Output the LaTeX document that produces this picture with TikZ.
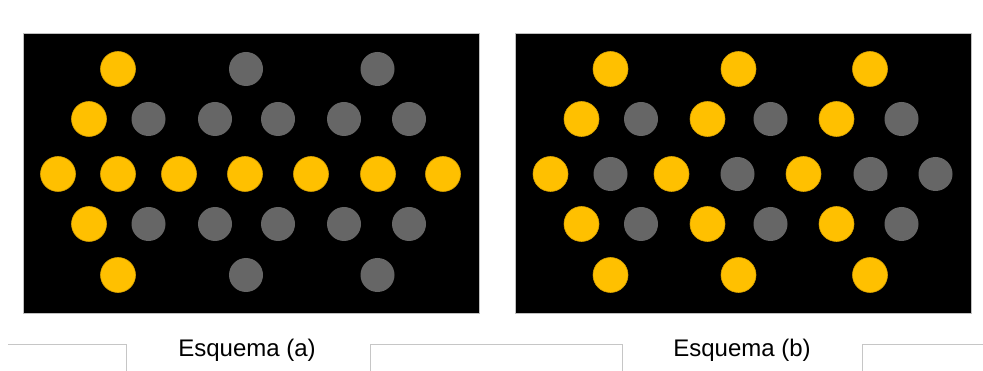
\documentclass[tikz,border=0pt]{standalone}
\usepackage{fontspec}
\setmainfont{Liberation Sans}
\usepackage{xcolor}
\usepackage{tikz}
\usetikzlibrary{positioning}
\definecolor{lampon}{RGB}{255,192,0}
\definecolor{lampoff}{RGB}{102,102,102}
\tikzset{
panel/.style={
draw=gray!50,
fill=black,
line width=0.9pt
},
onlamp/.style={
circle,
fill=lampon,
draw=lampon!85!black,
line width=0.6pt,
minimum size=35pt,
inner sep=0pt
},
offlamp/.style={
circle,
fill=lampoff,
minimum size=34pt,
inner sep=0pt
},
caption/.style={
font=\fontsize{24}{28}\selectfont,
anchor=base,
inner sep=0pt
},
rule/.style={
draw=gray!45,
line width=0.8pt
}
}

\begin{document}
\begin{tikzpicture}[x=1pt,y=-1pt]
\useasboundingbox (0,0) rectangle (983,371);

\node[panel,minimum width=456pt,minimum height=280pt,inner sep=0pt](pa) at (251,173){};
\node[panel,minimum width=456pt,minimum height=280pt,inner sep=0pt](pb) at (743.5,173){};

% Esquema (a)
\foreach \n/\x/\y in {ay1/118/69,ay2/89/119,ay3/58/174,ay4/118/174,ay5/179/174,ay6/245/174,
ay7/311/174,ay8/378/174,ay9/443/174,ay10/89/224,ay11/118/275}
\node[onlamp](\n) at (\x,\y){};
\foreach \n/\x/\y in {ag1/246/69,ag2/377.5/69,ag3/148.5/119,ag4/215/119,ag5/278/119,ag6/344/119,
ag7/409/119,ag8/148.5/224,ag9/215/224,ag10/278/224,ag11/344/224,ag12/409/224,ag13/246/275,ag14/377.5/275}
\node[offlamp](\n) at (\x,\y){};

% Esquema (b)
\foreach \n/\x/\y in {by1/610.5/69,by2/738.5/69,by3/870/69,by4/581.5/119,by5/707.5/119,by6/836.5/119,
by7/550.5/174,by8/671.5/174,by9/803.5/174,by10/581.5/224,by11/707.5/224,by12/836.5/224,
by13/610.5/275,by14/738.5/275,by15/870/275}
\node[onlamp](\n) at (\x,\y){};
\foreach \n/\x/\y in {bg1/641/119,bg2/770.5/119,bg3/901.5/119,bg4/610.5/174,bg5/737.5/174,
bg6/870.5/174,bg7/935.5/174,bg8/641/224,bg9/770.5/224,bg10/901.5/224}
\node[offlamp](\n) at (\x,\y){};

\node[caption](ca) at (247,356){Esquema (a)};
\node[caption](cb) at (742,356){Esquema (b)};

\draw[rule](8,344) -| (126,371);
\draw[rule](370,371) |- (622,344) -- (622,371);
\draw[rule](862,371) |- (983,344);
\end{tikzpicture}
\end{document}
